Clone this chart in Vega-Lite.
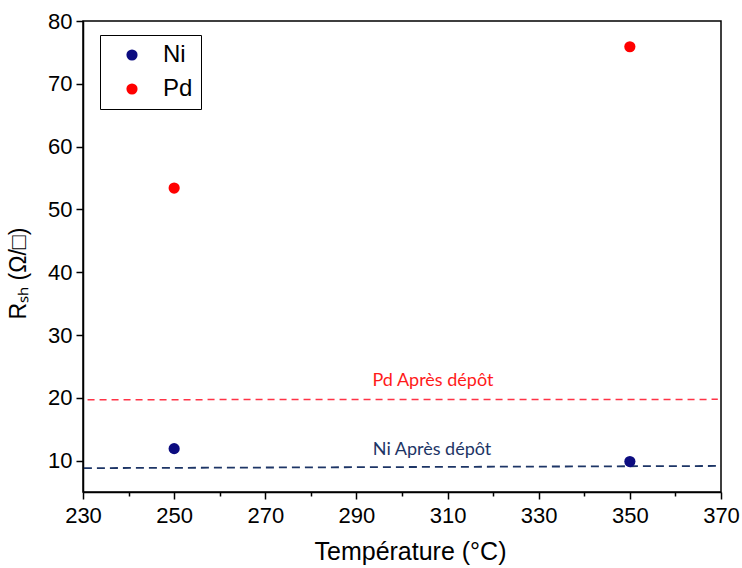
{
  "$schema": "https://vega.github.io/schema/vega-lite/v6.json",
  "width": 638,
  "height": 471,
  "autosize": {"type": "none"},
  "padding": {"left": 83, "top": 21, "right": 21, "bottom": 76},
  "background": "white",
  "config": {
    "view": {"stroke": "black", "strokeWidth": 1.5},
    "font": "Liberation Sans",
    "axis": {
      "grid": false,
      "domainColor": "black",
      "domainWidth": 1.5,
      "tickColor": "black",
      "tickWidth": 1.5,
      "labelFont": "Liberation Sans",
      "labelFontSize": 22,
      "labelColor": "black",
      "labelFlush": false,
      "titleFont": "Liberation Sans",
      "titleFontSize": 25,
      "titleFontWeight": "normal",
      "titleColor": "black"
    }
  },
  "datasets": {
    "points": [
      {"temp": 250, "rsh": 11.9, "metal": "Ni"},
      {"temp": 350, "rsh": 9.85, "metal": "Ni"},
      {"temp": 250, "rsh": 53.4, "metal": "Pd"},
      {"temp": 350, "rsh": 75.9, "metal": "Pd"}
    ],
    "refs": [
      {"metal": "Ni", "temp": 230.2, "rsh": 8.8},
      {"metal": "Ni", "temp": 370, "rsh": 9.15},
      {"metal": "Pd", "temp": 231, "rsh": 19.7},
      {"metal": "Pd", "temp": 369.3, "rsh": 19.75}
    ],
    "labels": [
      {"metal": "Pd", "temp": 306.8, "rsh": 22.6, "text": "Pd Après dépôt"},
      {"metal": "Ni", "temp": 306.6, "rsh": 11.7, "text": "Ni Après dépôt"}
    ]
  },
  "layer": [
    {
      "data": {"name": "refs"},
      "transform": [{"filter": "datum.metal === 'Pd'"}],
      "mark": {"type": "line", "color": "#ff3346", "strokeWidth": 1.5, "strokeDash": [7, 5]},
      "encoding": {
        "x": {"field": "temp", "type": "quantitative"},
        "y": {"field": "rsh", "type": "quantitative"}
      }
    },
    {
      "data": {"name": "refs"},
      "transform": [{"filter": "datum.metal === 'Ni'"}],
      "mark": {"type": "line", "color": "#1d3566", "strokeWidth": 1.8, "strokeDash": [8, 5]},
      "encoding": {
        "x": {"field": "temp", "type": "quantitative"},
        "y": {"field": "rsh", "type": "quantitative"}
      }
    },
    {
      "data": {"name": "labels"},
      "transform": [{"filter": "datum.metal === 'Pd'"}],
      "mark": {"type": "text", "color": "#ff1a1a", "font": "Lato", "fontSize": 18},
      "encoding": {
        "x": {"field": "temp", "type": "quantitative"},
        "y": {"field": "rsh", "type": "quantitative"},
        "text": {"field": "text"}
      }
    },
    {
      "data": {"name": "labels"},
      "transform": [{"filter": "datum.metal === 'Ni'"}],
      "mark": {"type": "text", "color": "#1d3566", "font": "Lato", "fontSize": 18},
      "encoding": {
        "x": {"field": "temp", "type": "quantitative"},
        "y": {"field": "rsh", "type": "quantitative"},
        "text": {"field": "text"}
      }
    },
    {
      "data": {"name": "points"},
      "mark": {"type": "point", "shape": "circle", "filled": true, "size": 125, "opacity": 1},
      "encoding": {
        "x": {
          "field": "temp",
          "type": "quantitative",
          "title": "Température (°C)",
          "scale": {"domain": [230, 370], "nice": false, "zero": false},
          "axis": {
            "values": [230, 240, 250, 260, 270, 280, 290, 300, 310, 320, 330, 340, 350, 360, 370],
            "labelExpr": "(datum.value - 230) % 20 === 0 ? datum.label : ''",
            "tickSize": {"condition": {"test": "(datum.value - 230) % 20 === 0", "value": 7}, "value": 4},
            "labelPadding": 6,
            "titlePadding": 13,
            "titleX": 327
          }
        },
        "y": {
          "field": "rsh",
          "type": "quantitative",
          "title": "Rₛₕ (Ω/□)",
          "scale": {"domain": [5, 80], "nice": false, "zero": false},
          "axis": {
            "values": [10, 15, 20, 25, 30, 35, 40, 45, 50, 55, 60, 65, 70, 75, 80],
            "labelExpr": "datum.value % 10 === 0 ? datum.label : ''",
            "tickSize": {"condition": {"test": "datum.value % 10 === 0", "value": 7}, "value": 4},
            "labelPadding": 4,
            "titleFontSize": 23,
            "titleX": -58,
            "titleY": 252,
            "titleBaseline": "alphabetic"
          }
        },
        "color": {
          "field": "metal",
          "type": "nominal",
          "scale": {"domain": ["Ni", "Pd"], "range": ["#0c0c80", "#ff0000"]},
          "legend": {
            "title": null,
            "orient": "none",
            "legendX": 17,
            "legendY": 14,
            "strokeColor": "black",
            "fillColor": "white",
            "padding": 8,
            "symbolOffset": 12,
            "symbolSize": 125,
            "symbolType": "circle",
            "labelFont": "Liberation Sans",
            "labelFontSize": 24,
            "labelColor": "black",
            "labelOffset": 19,
            "rowPadding": 10,
            "symbolStrokeWidth": 0
          }
        }
      }
    }
  ]
}
